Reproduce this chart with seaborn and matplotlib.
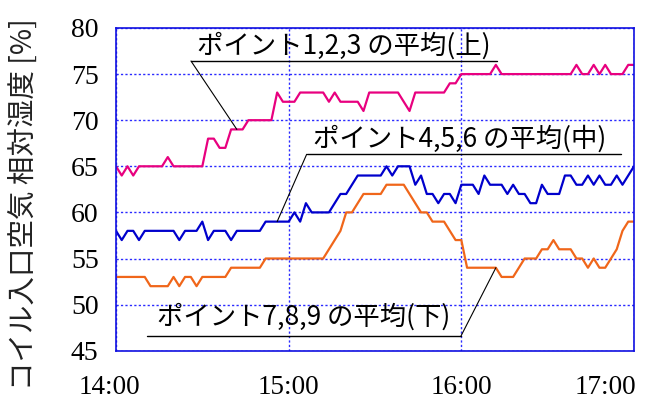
import numpy as np
import pandas as pd
import seaborn as sns
import matplotlib.pyplot as plt
from matplotlib.transforms import ScaledTranslation

# 2分間隔のデータ (14:00からの経過分)
minutes = list(range(0, 181, 2))

# ポイント1,2,3 の平均 (上)
rh_upper = [65, 64, 65, 64, 65, 65, 65, 65, 65, 66, 65, 65, 65, 65, 65, 65,
            68, 68, 67, 67, 69, 69, 69, 70, 70, 70, 70, 70, 73, 72, 72,
            72, 73, 73, 73, 73, 73, 72, 73, 72, 72, 72, 72, 71, 73, 73,
            73, 73, 73, 73, 72, 71, 73, 73, 73, 73, 73, 73, 74, 74, 75,
            75, 75, 75, 75, 75, 76, 75, 75, 75, 75, 75, 75, 75, 75, 75,
            75, 75, 75, 75, 76, 75, 75, 76, 75, 76, 75, 75, 75, 76, 76]

# ポイント4,5,6 の平均 (中)
rh_middle = [58, 57, 58, 58, 57, 58, 58, 58, 58, 58, 58, 57, 58, 58, 58, 59,
             57, 58, 58, 58, 57, 58, 58, 58, 58, 58, 59, 59, 59, 59, 59,
             60, 59, 61, 60, 60, 60, 60, 61, 62, 62, 63, 64, 64, 64, 64,
             64, 65, 64, 65, 65, 65, 63, 64, 62, 62, 61, 62, 62, 61, 63,
             63, 63, 62, 64, 63, 63, 63, 62, 63, 62, 62, 61, 61, 63, 62,
             62, 62, 64, 64, 63, 63, 64, 63, 64, 63, 63, 64, 63, 64, 65]

# ポイント7,8,9 の平均 (下)
rh_lower = [53, 53, 53, 53, 53, 53, 52, 52, 52, 52, 53, 52, 53, 53, 52, 53,
            53, 53, 53, 53, 54, 54, 54, 54, 54, 54, 55, 55, 55, 55, 55,
            55, 55, 55, 55, 55, 55, 56, 57, 58, 60, 60, 61, 62, 62, 62,
            62, 63, 63, 63, 63, 62, 61, 60, 60, 59, 59, 59, 58, 57, 57,
            54, 54, 54, 54, 54, 54, 53, 53, 53, 54, 55, 55, 55, 56, 56,
            57, 56, 56, 56, 55, 55, 54, 55, 54, 54, 55, 56, 58, 59, 59]

series_names = ["ポイント1,2,3 の平均(上)", "ポイント4,5,6 の平均(中)", "ポイント7,8,9 の平均(下)"]
series_colors = ["#e8007f", "#0000cc", "#f0661a"]

x_ticks = [0, 60, 120, 180]
x_tick_labels = ["14:00", "15:00", "16:00", "17:00"]
y_ticks = [45, 50, 55, 60, 65, 70, 75, 80]

# 吹き出しの引き出し線が指す点 (データの添字)
leader_idx = [21, 28, 66]

df = pd.DataFrame({
    "minute": minutes * 3,
    "rh": rh_upper + rh_middle + rh_lower,
    "series": np.repeat(series_names, len(minutes)),
})

sns.set_theme(style="white")
jp_font = ["Noto Sans CJK JP", "DejaVu Sans"]
num_font = ["Liberation Serif", "DejaVu Serif"]

fig = plt.figure(figsize=(6.62, 4.01), dpi=100)
ax = fig.add_axes([0.1752, 0.1254, 0.7825, 0.8048])

sns.lineplot(data=df, x="minute", y="rh", hue="series", hue_order=series_names,
             palette=dict(zip(series_names, series_colors)), estimator=None,
             linewidth=1.6, legend=False, ax=ax)

ax.set_xlim(0, 180)
ax.set_ylim(45, 80)
ax.set_xticks(x_ticks)
ax.set_xticklabels(x_tick_labels)
ax.set_yticks(y_ticks)
ax.set_xlabel("")
ax.set_ylabel("コイル入口空気 相対湿度 [%]", family=jp_font, fontsize=20.5, color="#222222")
ax.yaxis.set_label_coords(-0.147, 0.455)

ax.grid(True, color="#2a2aff", linestyle=(0, (1.6, 1.6)), linewidth=1.0)
for s in ax.spines.values():
    s.set_color("#1010e0")
    s.set_linewidth(1.2)

ax.tick_params(axis="both", length=0, colors="black")
ax.tick_params(axis="y", pad=12.5, labelsize=20)
ax.tick_params(axis="x", pad=17.5, labelsize=19.5)
for lab in ax.get_xticklabels() + ax.get_yticklabels():
    lab.set_family(num_font)

xl = ax.get_xticklabels()
xl[0].set_transform(xl[0].get_transform() + ScaledTranslation(-0.07, 0, fig.dpi_scale_trans))
xl[-1].set_horizontalalignment("right")
xl[-1].set_transform(xl[-1].get_transform() + ScaledTranslation(0.02, 0, fig.dpi_scale_trans))

# 注記: 文字位置, 下線 (左端, 右端, 高さ), 引き出し線の起点側
notes = [
    ((0.1564, 0.944), (0.1448, 0.7355, 0.8977), "left"),
    ((0.3803, 0.656), (0.3681, 0.9743, 0.6086), "left"),
    ((0.0792, 0.1054), (0.0593, 0.6660, 0.0456), "right"),
]
all_series = [rh_upper, rh_middle, rh_lower]
for (txt_pos, line, side), name, vals, idx in zip(notes, series_names, all_series, leader_idx):
    ax.text(txt_pos[0], txt_pos[1], name, transform=ax.transAxes, family=jp_font,
            fontsize=19, ha="left", va="center", color="black")
    ax.plot([line[0], line[1]], [line[2], line[2]], transform=ax.transAxes,
            color="black", linewidth=1.0, clip_on=False)
    start_x = line[0] if side == "left" else line[1]
    ax.annotate("", xy=(minutes[idx], vals[idx]), xycoords="data",
                xytext=(start_x, line[2]), textcoords="axes fraction",
                arrowprops=dict(arrowstyle="-", color="black", linewidth=0.8,
                                shrinkA=0, shrinkB=0))

fig.savefig("out.png", dpi=100)
